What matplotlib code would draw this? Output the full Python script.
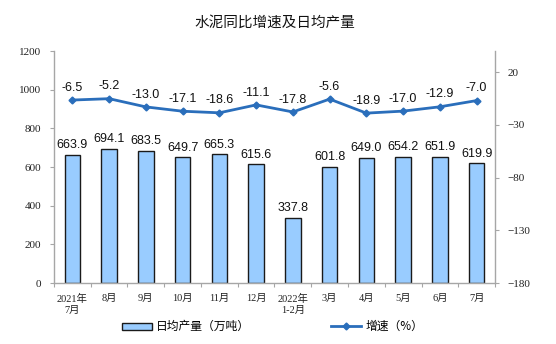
import matplotlib
matplotlib.use("Agg")
import matplotlib.pyplot as plt
from matplotlib.lines import Line2D
from matplotlib.patches import Patch

months = ["2021年\n7月", "8月", "9月", "10月", "11月", "12月",
          "2022年\n1-2月", "3月", "4月", "5月", "6月", "7月"]
daily_output = [663.9, 694.1, 683.5, 649.7, 665.3, 615.6,
                337.8, 601.8, 649.0, 654.2, 651.9, 619.9]
growth = [-6.5, -5.2, -13.0, -17.1, -18.6, -11.1,
          -17.8, -5.6, -18.9, -17.0, -12.9, -7.0]

cjk = ["Noto Sans CJK SC", "DejaVu Sans"]
serif = ["Liberation Serif", "Noto Sans CJK SC"]
sans = ["Liberation Sans", "DejaVu Sans"]

fig = plt.figure(figsize=(5.56, 3.44), dpi=100)
ax = fig.add_axes([0.0971, 0.1773, 0.7932, 0.6744])
ax2 = ax.twinx()

x = list(range(len(months)))
bar_color = "#99CCFF"
line_color = "#2A6EBB"
spine_color = "#A6A6A6"

ax.bar(x, daily_output, width=0.42, color=bar_color, edgecolor="#1A1A1A",
       linewidth=1.0, zorder=2)
for xi, v in zip(x, daily_output):
    ax.text(xi, v + 18, f"{v:.1f}", ha="center", va="bottom",
            fontsize=9, family=sans, color="#111111")

ax.set_xlim(-0.5, len(months) - 0.5)
ax.set_ylim(0, 1200)
ax.set_yticks(range(0, 1201, 200))

ax2.plot(x, growth, color=line_color, linewidth=2.0, marker="D",
         markersize=3.5, zorder=3)
for xi, v in zip(x, growth):
    ax2.text(xi, v + 6, f"{v:.1f}", ha="center", va="bottom",
             fontsize=9, family=sans, color="#111111")
ax2.set_ylim(-180, 40)
ax2.set_yticks(range(-180, 21, 50))

ax.set_xticks([i - 0.5 for i in range(len(months) + 1)], minor=False)
ax.set_xticklabels([])
ax.set_xticks(x, minor=True)
ax.set_xticklabels(months, minor=True, fontsize=7.5, family=serif,
                   color="#222222", linespacing=1.3)
ax.tick_params(axis="x", which="major", length=3, color=spine_color,
               direction="out")
ax.tick_params(axis="x", which="minor", length=0, pad=8)

for a in (ax, ax2):
    for s in a.spines.values():
        s.set_visible(False)
ax.spines["left"].set_visible(True)
ax.spines["bottom"].set_visible(True)
ax2.spines["right"].set_visible(True)
for s in (ax.spines["left"], ax.spines["bottom"], ax2.spines["right"]):
    s.set_color(spine_color)
    s.set_linewidth(1.0)

ax.tick_params(axis="y", length=3, color=spine_color, labelsize=8,
               labelcolor="#222222", pad=6)
ax2.tick_params(axis="y", length=3, color=spine_color, labelsize=8,
                labelcolor="#222222", pad=6)
for lbl in ax.get_yticklabels() + ax2.get_yticklabels():
    lbl.set_family(serif)

fig.text(0.495, 0.935, "水泥同比增速及日均产量", ha="center", va="center",
         fontsize=10.5, family=cjk, color="#111111")

handles = [
    Patch(facecolor=bar_color, edgecolor="#1A1A1A", linewidth=1.0),
    Line2D([0], [0], color=line_color, linewidth=2.0, marker="D",
           markersize=3.5),
]
fig.legend(handles, ["日均产量（万吨）", "增速（%）"], loc="center",
           bbox_to_anchor=(0.49, 0.05), ncol=2, frameon=False,
           prop={"family": cjk, "size": 8.5}, columnspacing=6.8,
           handlelength=2.6, handleheight=0.55, handletextpad=0.35)

fig.savefig("out.png", dpi=100)
